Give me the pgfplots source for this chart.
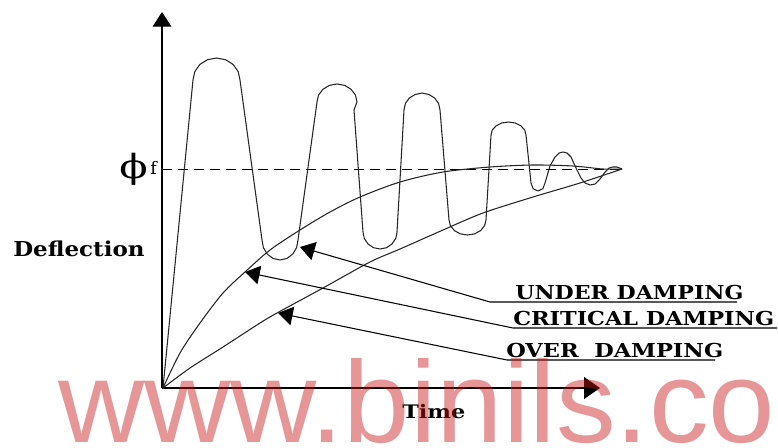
\documentclass[border=0pt]{standalone}
\usepackage{pgfplots}
\pgfplotsset{compat=1.18}
\usepackage{fontspec}
\setmainfont{DejaVu Serif}
\newfontfamily\wmfont{Liberation Sans}
\usetikzlibrary{arrows.meta}
\definecolor{wm}{RGB}{200,22,22}
\begin{document}
\begin{tikzpicture}
\begin{axis}[width=583.5pt, height=335.25pt, scale only axis, hide axis,
  xmin=0, xmax=778, ymin=0, ymax=447, y dir=reverse, clip=false]
% axes
\draw[line width=0.9pt, -{Triangle[length=11pt,width=14pt]}] (axis cs:162,388) -- (axis cs:162,12);
\draw[line width=0.9pt, -{Triangle[length=12pt,width=16.5pt]}] (axis cs:162,388) -- (axis cs:600,388);
% final value line
\addplot[black, line width=0.75pt, dash pattern=on 7.5pt off 4.5pt] coordinates {(162,169) (622,169)};
% under damping
\addplot[black!85, line width=0.8pt, line join=round] coordinates {
(163,388)
(193,80) (194.8,71.6) (199.9,64.4) (207.5,59.7) (216.5,58) (225.5,59.7) (233.1,64.4) (238.2,71.6) (240,80)
(262,240) (263.4,247.7) (267.3,254.1) (273.1,258.5) (280,260) (286.9,258.5) (292.7,254.1) (296.6,247.7) (298,240)
(317,102) (318.5,95.1) (322.9,89.3) (329.3,85.4) (337,84) (344.7,85.4) (351.1,89.3) (355.5,95.1) (357,102) (354,110)
(363,232) (364.3,238.5) (368,244) (373.5,247.7) (380,249) (386.5,247.7) (392,244) (395.7,238.5) (397,232)
(404,110) (405.4,103.5) (409.3,98) (415.1,94.5) (422,93) (428.9,94.5) (434.7,98) (438.6,103.5) (440,110)
(449,220) (450.4,225.7) (454.4,230.6) (460.4,233.9) (467.5,235) (474.6,233.9) (480.6,230.6) (484.6,225.7) (486,220)
(491,135) (492.3,130) (496.1,125.8) (501.8,123) (508.5,122) (515.2,123) (520.9,125.8) (524.7,130) (526,135)
(531,183) (533.1,188.7) (538,191) (542.9,188.7) (545,183)
(550,166) (555,157) (559,153) (563,152) (567,153) (571,157) (576,168) (581,178) (585,183) (590,185) (595,184)
(600,179) (605,172) (609,168) (613,167) (617,167) (622,169)
};
% critical damping
\addplot[black!85, line width=0.8pt, smooth, tension=0.5] coordinates {
(163,388) (180,353) (200,323) (223,293) (245,272) (270,250) (300,230) (330,212) (360,197)
(400,182) (443,172) (490,167) (533,165) (573,166) (603,169) (622,169)
};
% over damping
\addplot[black!85, line width=0.8pt, smooth, tension=0.5] coordinates {
(163,388) (190,368) (223,347) (260,323) (277,313) (323,288) (370,262) (400,249) (443,230)
(483,213) (533,197) (580,183) (622,169)
};
% label arrows
\draw[line width=0.8pt, {Triangle[length=11pt,width=14pt]}-] (axis cs:300,247) -- (axis cs:490,302) -- (axis cs:737,302);
\draw[line width=0.8pt, {Triangle[length=11pt,width=14pt]}-] (axis cs:245,272) -- (axis cs:513,328) -- (axis cs:777,328);
\draw[line width=0.8pt, {Triangle[length=11pt,width=14pt]}-] (axis cs:278,313) -- (axis cs:507,360) -- (axis cs:715,360);
% labels
\node[anchor=base west, inner sep=0pt] at (axis cs:515,299) {\fontsize{14.4}{14.4}\selectfont\bfseries\scalebox{1.15}[1]{UNDER DAMPING}};
\node[anchor=base west, inner sep=0pt] at (axis cs:513,325) {\fontsize{14.4}{14.4}\selectfont\bfseries\scalebox{1.165}[1]{CRITICAL DAMPING}};
\node[anchor=base west, inner sep=0pt] at (axis cs:506,357) {\fontsize{14.4}{14.4}\selectfont\bfseries\scalebox{1.17}[1]{OVER\ \ DAMPING}};
\node[anchor=base west, inner sep=0pt] at (axis cs:13,256) {\fontsize{15.4}{15.4}\selectfont\bfseries\scalebox{1.12}[1]{Deflection}};
\node[anchor=base west, inner sep=0pt] at (axis cs:402,418) {\fontsize{14}{14}\selectfont\bfseries\scalebox{1.2}[1]{Time}};
\node[anchor=base west, inner sep=0pt] at (axis cs:119,178) {\fontsize{25}{25}\selectfont\scalebox{1.25}[1]{ϕ}};
\node[anchor=base west, inner sep=0pt] at (axis cs:150,174) {\fontsize{13}{13}\selectfont f};
% watermark
\node[anchor=base west, inner sep=0pt, text=wm, text opacity=0.45] at (axis cs:58,442) {\wmfont\fontsize{87}{87}\selectfont\scalebox{1.03}[1]{www.binils.co}};
\coordinate (BBa) at (axis cs:0,0);
\coordinate (BBb) at (axis cs:778,447);
\end{axis}
\pgfresetboundingbox
\useasboundingbox (BBa) rectangle (BBb);
\end{tikzpicture}
\end{document}
